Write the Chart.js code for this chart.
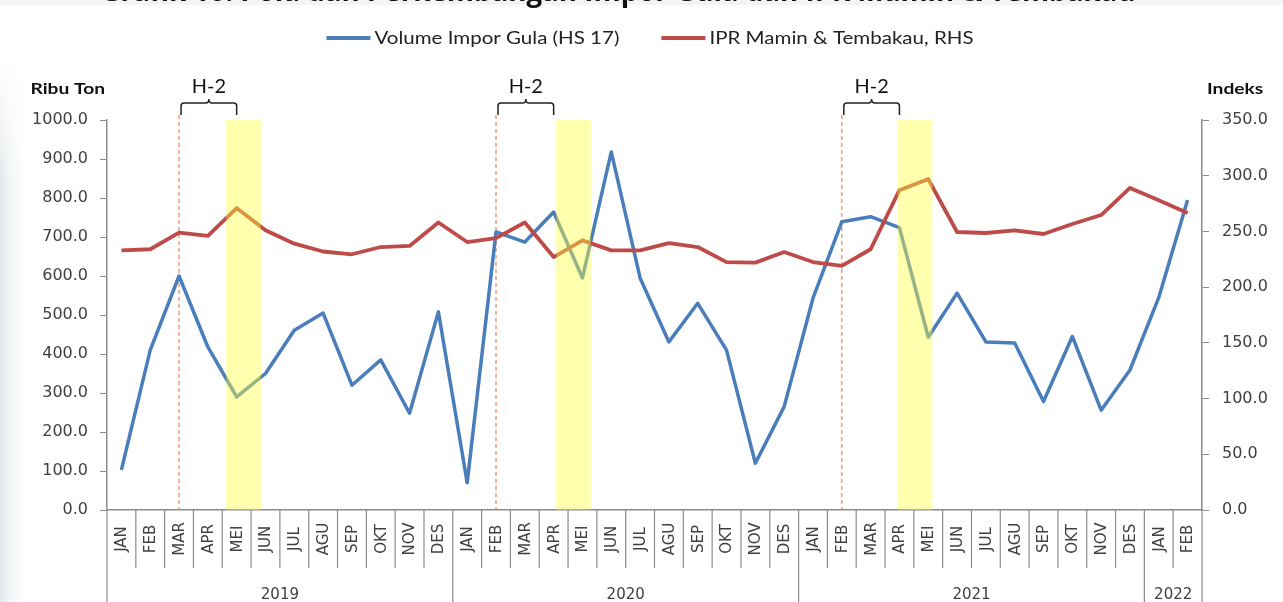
<!DOCTYPE html>
<html>
<head>
<meta charset="utf-8">
<script src="https://cdn.jsdelivr.net/npm/chart.js@4.4.1/dist/chart.umd.min.js"></script>
<style>
html, body { margin: 0; padding: 0; background: #fff; }
#wrap { position: relative; width: 1283px; height: 602px; overflow: hidden; }
#edge { position: absolute; left: 0; top: 60px; width: 26px; height: 542px;
  background: linear-gradient(to right, #e4e8eb, #f3f5f6 10px, rgba(255,255,255,0) 26px);
  -webkit-mask-image: linear-gradient(to bottom, rgba(0,0,0,0), #000 120px);
  mask-image: linear-gradient(to bottom, rgba(0,0,0,0), #000 120px); }
#strip { position: absolute; left: 0; top: 0; width: 1283px; height: 5px; background: #f3f4f5; }
canvas { position: absolute; left: 0; top: 0; }
</style>
</head>
<body>
<div id="wrap">
  <div id="edge"></div>
  <div id="strip"></div>
  <canvas id="chart" width="1283" height="602"></canvas>
</div>
<script>
var monthLabels = [
  'JAN','FEB','MAR','APR','MEI','JUN','JUL','AGU','SEP','OKT','NOV','DES',
  'JAN','FEB','MAR','APR','MEI','JUN','JUL','AGU','SEP','OKT','NOV','DES',
  'JAN','FEB','MAR','APR','MEI','JUN','JUL','AGU','SEP','OKT','NOV','DES',
  'JAN','FEB'
];
var yearLabels = ['2019', '2020', '2021', '2022'];
var yearMonths = [12, 12, 12, 2];

// ribu ton (left axis)
var volumeImporGula = [
  103, 410, 600, 418, 290, 350, 461, 505, 320, 385, 248, 508,
  70, 713, 687, 764, 595, 918, 595, 431, 530, 410, 120, 265,
  543, 739, 752, 724, 443, 556, 431, 428, 278, 445, 256, 359,
  545, 795
];
// indeks (right axis)
var iprMamin = [
  233, 234, 249, 246, 271, 251, 239, 232, 229.5, 236, 237, 258,
  240.5, 244, 258, 227, 242, 233, 233, 239.5, 236, 222.5, 222, 231.5,
  222.5, 219, 234, 287, 297, 249.5, 248.6, 251, 247.7, 256.7, 264.7, 289,
  278, 266.5
];

// yellow bands (month index, can fall between months) and H-2 markers
var bandMonths = [4.24, 15.69, 27.54];
var h2Months = [2, 13, 25];

var titleText = 'Grafik 16. Pola dan Perkembangan Impor Gula dan IPR Mamin & Tembakau';

var blue = '#4a7ebb';
var red = '#be4b48';
var axisColor = '#8c8c8c';
var textColor = '#404040';

// draw text stretched sideways (the source font is wider than Lato)
function wideText(ctx, s, x, y, sx, align) {
  var w = ctx.measureText(s).width * sx;
  var x0 = align === 'right' ? x - w : align === 'center' ? x - w / 2 : x;
  ctx.save();
  ctx.textAlign = 'left';
  ctx.translate(x0, y);
  ctx.scale(sx, 1);
  ctx.fillText(s, 0, 0);
  ctx.restore();
  return w;
}

var decor = {
  id: 'decor',
  beforeDatasetsDraw: function(chart) {
    var ctx = chart.ctx, xs = chart.scales.x, area = chart.chartArea;
    ctx.save();
    ctx.strokeStyle = 'rgba(238,130,90,0.8)';
    ctx.lineWidth = 1.5;
    ctx.setLineDash([4, 3]);
    h2Months.forEach(function(m) {
      var x = xs.getPixelForValue(m);
      ctx.beginPath();
      ctx.moveTo(x, area.top - 5);
      ctx.lineTo(x, area.bottom);
      ctx.stroke();
    });
    ctx.restore();
  },
  afterDraw: function(chart) {
    var ctx = chart.ctx, xs = chart.scales.x, area = chart.chartArea;
    var w = xs.getPixelForValue(1) - xs.getPixelForValue(0);
    ctx.save();

    // clipped title at the very top
    ctx.fillStyle = '#111';
    ctx.font = 'bold 28px "Open Sans"';
    ctx.textAlign = 'center';
    ctx.textBaseline = 'alphabetic';
    ctx.fillText(titleText, 618, 1, 1035);

    // legend
    var sx = 1.14;
    ctx.font = '18px Lato';
    ctx.textBaseline = 'middle';
    var items = chart.data.datasets.filter(function(d) { return d.type === 'line'; });
    var sw = 44, gap = 4, itemGap = 42, total = 0;
    items.forEach(function(d, i) {
      total += sw + gap + ctx.measureText(d.label).width * sx + (i ? itemGap : 0);
    });
    var lx = 650 - total / 2, ly = 38;
    items.forEach(function(d) {
      ctx.strokeStyle = d.borderColor;
      ctx.lineWidth = 4;
      ctx.beginPath();
      ctx.moveTo(lx, ly);
      ctx.lineTo(lx + sw, ly);
      ctx.stroke();
      ctx.fillStyle = '#222';
      var tw = wideText(ctx, d.label, lx + sw + gap, ly, sx, 'left');
      lx += sw + gap + tw + itemGap;
    });

    // axis titles
    ctx.font = 'bold 16px Lato';
    ctx.fillStyle = '#111';
    wideText(ctx, 'Ribu Ton', area.left - 2, 89, 1.2, 'right');
    wideText(ctx, 'Indeks', area.right + 5, 89, 1.2, 'left');

    // H-2 brackets
    ctx.strokeStyle = '#222';
    ctx.lineWidth = 1.5;
    ctx.font = '19px Lato';
    h2Months.forEach(function(m) {
      var x1 = xs.getPixelForValue(m) + 2, x2 = xs.getPixelForValue(m + 2);
      var xm = (x1 + x2) / 2, yt = 103, yb = 115;
      ctx.beginPath();
      ctx.moveTo(x1, yb);
      ctx.lineTo(x1, yt + 3);
      ctx.quadraticCurveTo(x1, yt, x1 + 3, yt);
      ctx.lineTo(xm - 3, yt);
      ctx.quadraticCurveTo(xm, yt, xm, yt - 4);
      ctx.quadraticCurveTo(xm, yt, xm + 3, yt);
      ctx.lineTo(x2 - 3, yt);
      ctx.quadraticCurveTo(x2, yt, x2, yt + 3);
      ctx.lineTo(x2, yb);
      ctx.stroke();
      ctx.fillStyle = '#111';
      wideText(ctx, 'H-2', xm, 87, 1.05, 'center');
    });

    // category separators, month and year labels
    var yMonthEnd = area.bottom + 58, yEnd = chart.height;
    var yearStarts = [], acc = 0;
    yearMonths.forEach(function(n) { yearStarts.push(acc); acc += n; });
    ctx.strokeStyle = axisColor;
    ctx.lineWidth = 1.2;
    for (var i = 0; i <= monthLabels.length; i++) {
      var bx = xs.getPixelForValue(i) - w / 2;
      var full = i === 0 || i === monthLabels.length || yearStarts.indexOf(i) >= 0;
      ctx.beginPath();
      ctx.moveTo(bx, area.bottom);
      ctx.lineTo(bx, full ? yEnd : yMonthEnd);
      ctx.stroke();
    }
    ctx.fillStyle = textColor;
    ctx.font = '15px "DejaVu Sans"';
    ctx.textAlign = 'center';
    ctx.textBaseline = 'middle';
    monthLabels.forEach(function(lab, i) {
      ctx.save();
      ctx.translate(xs.getPixelForValue(i) + 1, area.bottom + 29);
      ctx.rotate(-Math.PI / 2);
      ctx.fillText(lab, 0, 0);
      ctx.restore();
    });
    yearLabels.forEach(function(lab, k) {
      var a = xs.getPixelForValue(yearStarts[k]);
      var b = xs.getPixelForValue(yearStarts[k] + yearMonths[k] - 1);
      ctx.fillText(lab, (a + b) / 2, area.bottom + 85);
    });
    ctx.restore();
  }
};

new Chart(document.getElementById('chart'), {
  data: {
    labels: monthLabels,
    datasets: [
      {
        type: 'line',
        label: 'Volume Impor Gula (HS 17)',
        data: volumeImporGula,
        yAxisID: 'y',
        borderColor: blue,
        backgroundColor: blue,
        borderWidth: 3.5,
        borderJoinStyle: 'round',
        pointRadius: 0,
        tension: 0,
        order: 2
      },
      {
        type: 'line',
        label: 'IPR Mamin & Tembakau, RHS',
        data: iprMamin,
        yAxisID: 'y1',
        borderColor: red,
        backgroundColor: red,
        borderWidth: 3.8,
        borderJoinStyle: 'round',
        pointRadius: 0,
        tension: 0,
        order: 1
      },
      {
        type: 'bar',
        label: 'band',
        data: bandMonths.map(function(m) { return { x: m, y: 1000 }; }),
        xAxisID: 'xb',
        yAxisID: 'y',
        backgroundColor: 'rgba(255,255,60,0.42)',
        borderWidth: 0,
        barThickness: 34,
        grouped: false,
        order: 0
      }
    ]
  },
  options: {
    responsive: false,
    animation: false,
    layout: { padding: { top: 120, bottom: 92, left: 0, right: 0 } },
    plugins: {
      legend: { display: false },
      tooltip: { enabled: false }
    },
    scales: {
      x: {
        type: 'category',
        offset: true,
        ticks: { display: false },
        grid: { display: false },
        border: { color: axisColor, width: 1.5 },
        afterFit: function(s) { s.height = 0; }
      },
      xb: {
        type: 'linear',
        display: false,
        offset: false,
        grid: { offset: false },
        min: -0.5,
        max: monthLabels.length - 0.5
      },
      y: {
        position: 'left',
        min: 0,
        max: 1000,
        ticks: {
          stepSize: 100,
          padding: 12,
          color: textColor,
          font: { family: 'DejaVu Sans', size: 16 },
          callback: function(v) { return v.toFixed(1); }
        },
        grid: { drawOnChartArea: false, tickLength: 7, color: axisColor },
        border: { color: axisColor, width: 1.5 },
        afterFit: function(s) { s.width = 107; }
      },
      y1: {
        position: 'right',
        min: 0,
        max: 350,
        ticks: {
          stepSize: 50,
          padding: 13,
          color: textColor,
          font: { family: 'DejaVu Sans', size: 16 },
          callback: function(v) { return v.toFixed(1); }
        },
        grid: { drawOnChartArea: false, tickLength: 7, color: axisColor },
        border: { color: axisColor, width: 1.5 },
        afterFit: function(s) { s.width = 81; }
      }
    }
  },
  plugins: [decor]
});
</script>
</body>
</html>
